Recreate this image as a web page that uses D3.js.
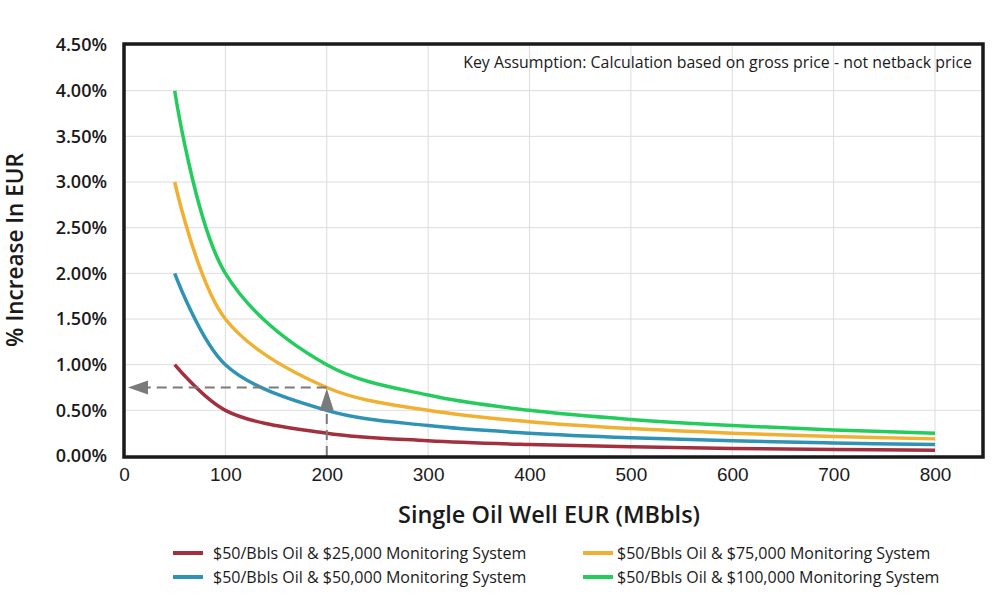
<!DOCTYPE html>
<html><head><meta charset="utf-8">
<script src="https://cdn.jsdelivr.net/npm/d3@7"></script>
<style>
body{margin:0;background:#fff;}
svg{font-family:"Open Sans",sans-serif;}
</style></head>
<body><svg id="c" width="1000" height="608"></svg>
<script>
const xValues = [50,100,200,300,400,500,600,700,800];
const series25 = [1.00,0.50,0.25,0.167,0.125,0.10,0.083,0.071,0.0625];
const series50 = [2.00,1.00,0.50,0.333,0.25,0.20,0.167,0.143,0.125];
const series75 = [3.00,1.50,0.75,0.50,0.375,0.30,0.25,0.214,0.1875];
const series100 = [4.00,2.00,1.00,0.667,0.50,0.40,0.333,0.286,0.25];
const seriesNames = ["$50/Bbls Oil & $25,000 Monitoring System","$50/Bbls Oil & $50,000 Monitoring System","$50/Bbls Oil & $75,000 Monitoring System","$50/Bbls Oil & $100,000 Monitoring System"];
const seriesColors = ["#a3303f","#2f93b5","#f0b032","#24cc5e"];
const xTicks = [0,100,200,300,400,500,600,700,800];
const yTicks = [0,0.5,1.0,1.5,2.0,2.5,3.0,3.5,4.0,4.5];
const markerX = 200, markerY = 0.75;

const svg = d3.select("#c");
const L=124, R=983, T=44, B=457;
const x = d3.scaleLinear().domain([0,800]).range([124,935]);
const y = d3.scaleLinear().domain([0,4.5]).range([456,45]);

// grid
svg.append("g").selectAll("line").data(xTicks.slice(1)).join("line")
  .attr("x1",d=>x(d)).attr("x2",d=>x(d)).attr("y1",T).attr("y2",B)
  .attr("stroke","#dcdcdc").attr("stroke-width",1);
svg.append("g").selectAll("line").data(yTicks.slice(1)).join("line")
  .attr("x1",L).attr("x2",R).attr("y1",d=>y(d)).attr("y2",d=>y(d))
  .attr("stroke","#dcdcdc").attr("stroke-width",1);

// axes labels
const yAxis = svg.append("g").attr("transform",`translate(${L},0)`)
  .call(d3.axisLeft(y).tickValues(yTicks).tickSize(0).tickPadding(17).tickFormat(d=>d.toFixed(2)+"%"));
yAxis.select(".domain").remove();
yAxis.selectAll("text").attr("font-size",18).attr("font-weight",600).attr("fill","#1a1a1a").attr("font-family","Open Sans");

const xAxis = svg.append("g").attr("transform",`translate(0,${B})`)
  .call(d3.axisBottom(x).tickValues(xTicks).tickSize(0).tickPadding(11).tickFormat(d3.format("d")));
xAxis.select(".domain").remove();
xAxis.selectAll("text").attr("font-size",19).attr("fill","#1a1a1a").style("font-stretch","semi-condensed");

// titles
svg.append("text").attr("x",549).attr("y",523).attr("text-anchor","middle")
  .attr("font-size",23).attr("font-weight",600).attr("fill","#1a1a1a")
  .attr("textLength",302).attr("lengthAdjust","spacingAndGlyphs")
  .text("Single Oil Well EUR (MBbls)");
svg.append("text").attr("transform","translate(23,250) rotate(-90)").attr("text-anchor","middle")
  .attr("font-size",22.5).attr("font-weight",600).attr("fill","#1a1a1a")
  .text("% Increase In EUR");

svg.append("text").attr("x",972).attr("y",68).attr("text-anchor","end")
  .attr("font-size",15.9).attr("fill","#1a1a1a")
  .text("Key Assumption: Calculation based on gross price - not netback price");

// lines
const allSeries = [series25,series50,series75,series100];
const line = d3.line().x((d,i)=>x(xValues[i])).y(d=>y(d)).curve(d3.curveCatmullRom.alpha(0.5));
svg.append("g").selectAll("path").data(allSeries).join("path")
  .attr("d",d=>line(d)).attr("fill","none")
  .attr("stroke",(d,i)=>seriesColors[i]).attr("stroke-width",3.5);

// marker arrows
const mk = svg.append("g").attr("stroke","#7a7a7a").attr("stroke-width",2).attr("stroke-dasharray","10,6");
mk.append("line").attr("x1",x(markerX)).attr("x2",x(0)+20).attr("y1",y(markerY)).attr("y2",y(markerY));
mk.append("line").attr("x1",x(markerX)).attr("x2",x(markerX)).attr("y1",y(0)).attr("y2",y(markerY)+20);
svg.append("path").attr("fill","#7a7a7a")
  .attr("d",`M${x(0)+4},${y(markerY)} L${x(0)+24},${y(markerY)-7} L${x(0)+24},${y(markerY)+7} Z`);
svg.append("path").attr("fill","#7a7a7a")
  .attr("d",`M${x(markerX)},${y(markerY)+1} L${x(markerX)-7},${y(markerY)+23} L${x(markerX)+7},${y(markerY)+23} Z`);

// frame
svg.append("rect").attr("x",L).attr("y",T).attr("width",R-L).attr("height",B-T)
  .attr("fill","none").attr("stroke","#1a1a1a").attr("stroke-width",3.5);

// legend
const legPos = [[173,553],[173,577],[583,553],[583,577]];
const lg = svg.append("g").selectAll("g").data(seriesNames).join("g")
  .attr("transform",(d,i)=>`translate(${legPos[i][0]},${legPos[i][1]})`);
lg.append("line").attr("x1",0).attr("x2",30).attr("y1",0).attr("y2",0)
  .attr("stroke",(d,i)=>seriesColors[i]).attr("stroke-width",4);
lg.append("text").attr("x",(d,i)=>i<2?40:34).attr("y",6).attr("font-size",16).attr("fill","#1a1a1a")
  .text(d=>d);
</script></body></html>
